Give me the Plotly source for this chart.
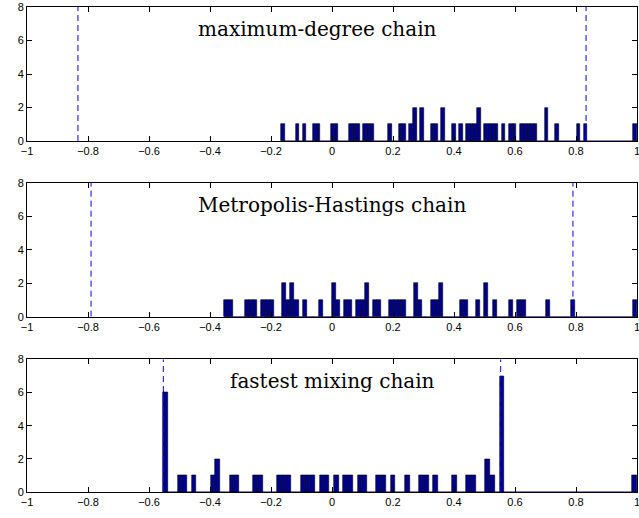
import plotly.graph_objects as go

# ---- data (100 bins between min and max eigenvalue) ----
titles = ["maximum-degree chain", "Metropolis-Hastings chain", "fastest mixing chain"]

# panel 1: maximum-degree chain
lo1, hi1 = -0.166, 1.0
bins1 = [0, 4, 6, 9, 10, 14, 15, 19, 20, 21, 23, 24, 25, 30, 33, 34, 36, 37, 39, 42,
         43, 45, 48, 50, 52, 53, 54, 55, 57, 58, 59, 60, 62, 64, 65, 67, 68, 69, 70, 71,
         74, 77, 83, 85, 99]
counts1 = [1, 1, 1, 1, 1, 1, 1, 1, 1, 1, 1, 1, 1, 1, 1, 1, 1, 2, 2, 1,
           1, 2, 1, 1, 1, 1, 1, 2, 1, 1, 1, 1, 1, 1, 1, 1, 1, 1, 1, 1,
           2, 1, 1, 1, 1]
mu1 = 0.833

# panel 2: Metropolis-Hastings chain
lo2, hi2 = -0.353, 1.0
bins2 = [0, 1, 5, 6, 7, 9, 10, 11, 14, 15, 16, 17, 19, 23, 26, 27, 29, 30, 32, 33,
         34, 36, 37, 40, 41, 42, 43, 46, 47, 50, 51, 52, 57, 58, 61, 63, 65, 69, 71, 72,
         78, 84, 99]
counts2 = [1, 1, 1, 1, 1, 1, 1, 1, 2, 1, 2, 1, 1, 1, 2, 1, 1, 1, 1, 1,
           2, 1, 1, 1, 1, 1, 1, 2, 1, 1, 1, 2, 1, 1, 1, 2, 1, 1, 1, 1,
           1, 1, 1]
mu2 = 0.790

# panel 3: fastest mixing chain
lo3, hi3 = -0.553, 1.0
bins3 = [0, 3, 4, 6, 10, 11, 14, 15, 19, 20, 24, 25, 26, 29, 30, 31, 33, 34, 36, 38,
         39, 41, 42, 45, 46, 48, 51, 54, 55, 57, 61, 64, 65, 68, 69, 71, 99]
counts3 = [6, 1, 1, 1, 1, 2, 1, 1, 1, 1, 1, 1, 1, 1, 1, 1, 1, 1, 1, 1,
           1, 1, 1, 1, 1, 1, 1, 1, 1, 1, 1, 1, 1, 2, 1, 7, 1]
mu3 = 0.553

nbins = 100
x_ticks = [-1, -0.8, -0.6, -0.4, -0.2, 0, 0.2, 0.4, 0.6, 0.8, 1]
x_ticktext = ["\u22121", "\u22120.8", "\u22120.6", "\u22120.4", "\u22120.2", "0", "0.2", "0.4", "0.6", "0.8", "1"]
y_ticks = [0, 2, 4, 6, 8]

panels = [
    (lo1, hi1, bins1, counts1, mu1, titles[0], -0.046),
    (lo2, hi2, bins2, counts2, mu2, titles[1], 0.0),
    (lo3, hi3, bins3, counts3, mu3, titles[2], 0.0),
]
domains = [[0.7237, 1.0], [0.3615, 0.6371], [0.0, 0.2736]]

fig = go.Figure()
shapes = []
annotations = []
tickfont = dict(family="Liberation Sans, Arial, sans-serif", size=11, color="black")

for i, (lo, hi, bins, counts, mu, title, tx) in enumerate(panels):
    sfx = "" if i == 0 else str(i + 1)
    xa, ya = "x" + sfx, "y" + sfx
    w = (hi - lo) / nbins
    centers = [lo + (b + 0.5) * w for b in bins]
    fig.add_trace(go.Bar(
        x=centers, y=counts, width=w,
        marker=dict(color="#00008f", line=dict(color="black", width=0.6)),
        xaxis=xa, yaxis=ya, showlegend=False, hoverinfo="x+y",
    ))
    # zero-height bins drawn as a baseline, like MATLAB's hist
    shapes.append(dict(type="line", xref=xa, yref=ya, x0=lo, x1=hi, y0=0, y1=0,
                       line=dict(color="#00008f", width=1), layer="below"))
    for m in (-mu, mu):
        shapes.append(dict(type="line", xref=xa, yref=ya, x0=m, x1=m, y0=0, y1=8,
                           line=dict(color="#0000ff", width=1, dash="6px,4px"), layer="above"))
    annotations.append(dict(x=tx, y=6.7, xref=xa, yref=ya, text=title, showarrow=False,
                            font=dict(family="DejaVu Serif, serif", size=20, color="black"),
                            xanchor="center", yanchor="middle"))
    axx = dict(domain=[0, 1], anchor=ya, range=[-1, 1], tickvals=x_ticks, ticktext=x_ticktext,
               ticks="inside", ticklen=5, tickcolor="black", showline=True, linecolor="black",
               linewidth=1, mirror="ticks", showgrid=False, zeroline=False, tickfont=tickfont,
               automargin=False, fixedrange=True, ticklabeloverflow="allow")
    axy = dict(domain=domains[i], anchor=xa, range=[0, 8], tickvals=y_ticks,
               ticks="inside", ticklen=5, tickcolor="black", showline=True, linecolor="black",
               linewidth=1, mirror="ticks", showgrid=False, zeroline=False, tickfont=tickfont,
               automargin=False, fixedrange=True)
    fig.update_layout(**{"xaxis" + sfx: axx, "yaxis" + sfx: axy})

fig.update_layout(
    width=639, height=518,
    margin=dict(l=27, r=2, t=7, b=26),
    paper_bgcolor="white", plot_bgcolor="white",
    shapes=shapes, annotations=annotations,
    bargap=0, showlegend=False,
)

fig.write_html("out.html", config={"displayModeBar": False},
               post_script="document.body.style.margin='0';document.body.style.overflow='hidden';")
